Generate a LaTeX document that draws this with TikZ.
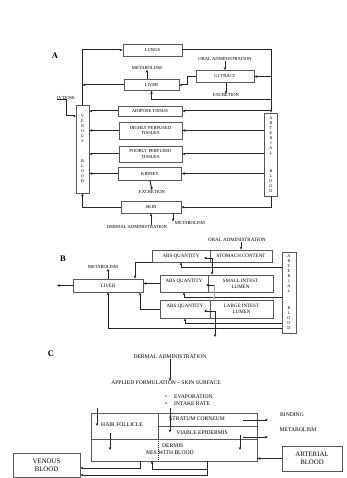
\documentclass[tikz,border=0pt]{standalone}
\usepackage{fontspec}
\setmainfont{Liberation Serif}
\usepackage{tikz}
\usetikzlibrary{arrows.meta,positioning}
\newcommand{\sizeA}{\fontsize{4.6}{5.3}\selectfont}
\newcommand{\sizeAv}{\fontsize{4.2}{5}\selectfont}
\newcommand{\sizeB}{\fontsize{5}{5.8}\selectfont}
\newcommand{\sizeC}{\fontsize{5.6}{6.4}\selectfont}
\newcommand{\sizeCbig}{\fontsize{6.8}{8.4}\selectfont}
\newcommand{\panelfont}{\fontsize{8.5}{9}\selectfont\bfseries}
\tikzset{
  comp/.style={rectangle,draw=black!65,line width=0.8pt,inner sep=0pt,align=center},
  tag/.style={inner sep=0pt,align=center},
  flow/.style={draw=black!85,line width=1pt},
  arr/.style={flow,-{Stealth[length=3pt,width=2.6pt]}},
  lightarr/.style={arr,draw=black!35}
}

\begin{document}
\begin{tikzpicture}[x=1pt,y=-1pt]
  \fill[white] (0,0) rectangle (346,478);
  \useasboundingbox (0,0) rectangle (346,478);

  % A
  \node[tag,font=\panelfont] (labA) at (55,56) {A};
  \node[comp,font=\sizeA,minimum width=59pt,minimum height=12pt] (lungs) at (152.5,50) {LUNGS};
  \node[tag,font=\sizeA] (oralA) at (225,59) {ORAL ADMINISTRATION};
  \node[comp,font=\sizeA,minimum width=58pt,minimum height=12pt] (gi) at (225,76.5) {GI TRACT};
  \node[tag,font=\sizeA] (excrA) at (226,95.5) {EXCRETION};
  \node[comp,font=\sizeA,minimum width=55pt,minimum height=11pt] (liverA) at (151.5,85) {LIVER};
  \node[tag,font=\sizeA] (metabA) at (147,68) {METABOLISM};
  \node[tag,font=\sizeA] (ivdose) at (66,98) {IV DOSE};
  \node[comp,font=\sizeAv,minimum width=13pt,minimum height=88pt] (venA) at (82.5,149)
    {V\\E\\N\\O\\U\\S\\[15pt]B\\L\\O\\O\\D};
  \node[comp,font=\sizeA,minimum width=64pt,minimum height=10pt] (adipose) at (150,111) {ADIPOSE TISSUE};
  \node[comp,font=\sizeA,minimum width=63pt,minimum height=17pt] (hpt) at (150.5,130.5) {HIGHLY PERFUSED\\TISSUES};
  \node[comp,font=\sizeA,minimum width=63pt,minimum height=16pt] (ppt) at (150.5,154) {POORLY PERFUSED\\TISSUES};
  \node[comp,font=\sizeA,minimum width=63pt,minimum height=13pt] (kidney) at (150,173.5) {KIDNEY};
  \node[tag,font=\sizeA] (excrK) at (152,192) {EXCRETION};
  \node[comp,font=\sizeA,minimum width=60pt,minimum height=12pt] (skinA) at (151,207) {SKIN};
  \node[comp,font=\sizeAv,minimum width=13pt,minimum height=83pt] (artA) at (271,154.5)
    {A\\R\\T\\E\\R\\I\\A\\L\\[13pt]B\\L\\O\\O\\D};
  \node[tag,font=\sizeA] (dermA) at (137,227) {DERMAL ADMINISTRATION};
  \node[tag,font=\sizeA] (metabS) at (190,223) {METABOLISM};

  \coordinate (ivin) at (76,116);
  \coordinate (hep) at (271,100);
  \draw[arr] (venA.north) |- (lungs.west);
  \draw[arr] (lungs.east) -| (artA.north);
  \draw[arr] (oralA.south -| gi.north) -- (gi.north);
  \draw[arr] (artA.north |- gi.east) -- (gi.east);
  \draw[arr] (gi.south -| excrA.north) -- (excrA.north);
  \draw[arr] (gi.west) -- ++(-8,0) |- (liverA.east);
  \draw[arr] (liverA.north -| metabA.south) -- (metabA.south);
  \draw[arr] (liverA.west) -- (liverA.west -| venA.north);
  \draw[arr] (hep) -| (liverA.south);
  \draw[arr] (ivdose.south west) -- (ivdose.south) |- (ivin);
  \draw[arr] (adipose.west) -- (adipose.west -| venA.east);
  \draw[arr] (artA.north |- adipose.east) -- (adipose.east);
  \draw[arr] (hpt.west) -- (hpt.west -| venA.east);
  \draw[arr] (hpt.east -| artA.west) -- (hpt.east);
  \draw[arr] (ppt.west) -- (ppt.west -| venA.east);
  \draw[arr] (ppt.east -| artA.west) -- (ppt.east);
  \draw[arr] (kidney.west) -- (kidney.west -| venA.east);
  \draw[arr] (kidney.east -| artA.west) -- (kidney.east);
  \draw[arr] (kidney.south) -- (excrK.north);
  \draw[arr] (skinA.west) -| (venA.south);
  \draw[arr] (artA.south) |- (skinA.east);
  \draw[arr] (dermA.north -| skinA.south) -- (skinA.south);
  \draw[arr] ([xshift=22pt]skinA.south) -- ++(0,8);

  % B
  \node[tag,font=\panelfont] (labB) at (63,259) {B};
  \node[tag,font=\sizeB] (oralB) at (237,240) {ORAL ADMINISTRATION};
  \node[comp,font=\sizeB,minimum width=58pt,minimum height=12pt] (absS) at (181,256) {ABS QUANTITY};
  \node[comp,font=\sizeB,minimum width=62pt,minimum height=12pt] (stom) at (241,256) {STOMACH CONTENT};
  \node[comp,font=\sizeB,minimum width=48pt,minimum height=17pt] (absSI) at (184,283.5) {ABS QUANTITY\\\mbox{}};
  \node[comp,font=\sizeB,minimum width=65pt,minimum height=17pt] (smallI) at (240.5,283.5) {SMALL INTEST\\LUMEN};
  \node[comp,font=\sizeB,minimum width=50pt,minimum height=18pt] (absLI) at (185,309) {ABS QUANTITY\\\mbox{}};
  \node[comp,font=\sizeB,minimum width=63pt,minimum height=18pt] (largeI) at (241.5,309) {LARGE INTEST\\LUMEN};
  \node[comp,font=\sizeB,minimum width=70pt,minimum height=13pt] (liverB) at (108,285.5) {LIVER};
  \node[tag,font=\sizeA] (metabB) at (103,267) {METABOLISM};
  \node[comp,font=\sizeAv,minimum width=14pt,minimum height=81pt] (artB) at (289,292.5)
    {A\\R\\T\\E\\R\\I\\A\\L\\[12pt]B\\L\\O\\O\\D};

  \coordinate (venB) at (57,285.5);
  \coordinate (f1) at (282,267);
  \coordinate (f2) at (282,297);
  \coordinate (f3) at (282,323);
  \coordinate (f4) at (282,328);
  \coordinate (j1) at (212,258);
  \coordinate (j2) at (214,285);
  \coordinate (j3) at (215,311);
  \coordinate (feces) at (215,337);
  \draw[arr] (oralB.south -| stom.north) -- (stom.north);
  \draw[arr] (liverB.north) -- (liverB.north |- metabB.south);
  \draw[arr] (liverB.west) -- (venB);
  \draw[arr] (f1) -| (absS.south);
  \draw[arr] (f2) -| (absSI.south);
  \draw[arr] (f3) -| (absLI.south);
  \draw[arr] (f4) -| (liverB.south);
  \draw[arr] (absS.south west) -| ([xshift=27pt]liverB.north);
  \draw[arr] (absSI.west) -- (absSI.west -| liverB.east);
  \draw[arr] (absLI.west) -| ([xshift=32pt]liverB.south);
  \draw[arr] (j1) -- ++(-8,0);
  \draw[arr] (j1) -- (j1 |- smallI.north);
  \draw[arr] (j2) -- ++(-8,0);
  \draw[lightarr] (j2) -- (j2 |- largeI.north);
  \draw[arr] (j3) -- ++(-11,0);
  \draw[arr] (j3) -- (feces);

  % C
  \node[tag,font=\panelfont] (labC) at (51,354) {C};
  \node[tag,font=\sizeC] (dermal) at (170,357) {DERMAL ADMINISTRATION};
  \node[tag,font=\sizeC] (applied) at (166,383) {APPLIED FORMULATION -- SKIN SURFACE};
  \node[tag,font=\sizeC,anchor=west] (evap) at (165,397) {\textbullet\hspace{7pt}EVAPORATION};
  \node[tag,font=\sizeC,anchor=west] (intake) at (165,404) {\textbullet\hspace{7pt}INTAKE RATE};
  \node[comp,minimum width=67pt,minimum height=26pt] (hairf) at (124.5,426) {};
  \node[comp,minimum width=99pt,minimum height=13pt] (strat) at (207.5,419.5) {};
  \node[comp,minimum width=99pt,minimum height=13pt] (viable) at (207.5,432.5) {};
  \node[comp,minimum width=166pt,minimum height=22pt] (dermis) at (174,450) {};
  \node[tag,font=\sizeC] (hairtxt) at (122,425) {HAIR FOLLICLE};
  \node[tag,font=\sizeC] (strattxt) at (197,419) {STRATUM CORNEUM};
  \node[tag,font=\sizeC] (viabtxt) at (202,433) {VIABLE EPIDERMIS};
  \node[tag,font=\sizeC,anchor=west] (dermtxt) at (162,446) {DERMIS};
  \node[tag,font=\sizeC,anchor=west] (mixtxt) at (146,453) {MIX WITH BLOOD};
  \node[tag,font=\sizeC] (binding) at (292,415) {BINDING};
  \node[tag,font=\sizeC] (metabC) at (298,430) {METABOLISM};
  \node[comp,font=\sizeCbig,minimum width=67pt,minimum height=24pt] (venC) at (46.5,465) {VENOUS\\BLOOD};
  \node[comp,font=\sizeCbig,minimum width=60pt,minimum height=25pt] (artC) at (312,458.5) {ARTERIAL\\BLOOD};

  \coordinate (hin) at (97,408);
  \coordinate (intk) at (170,408);
  \coordinate (hf) at (110,433);
  \coordinate (ve) at (240,435);
  \coordinate (b0) at (243,420);
  \coordinate (b1) at (268,420);
  \coordinate (m0) at (243,437);
  \coordinate (m1) at (268,437);
  \coordinate (v1) at (140,461);
  \coordinate (v2) at (207,461);
  \coordinate (back) at (207,469);
  \draw[flow,dash pattern=on 1pt off 1pt] (hairf.south east) -- (hairf.south east |- dermis.south);
  \draw[arr] (dermal.south) -- (dermal.south |- applied.north);
  \draw[arr] (hin) -- (hin |- hairf.center);
  \draw[arr] (intk) -- (intk |- viable.center);
  \draw[arr] (hf) -- (hf |- dermis.center);
  \draw[arr] (ve) -- (ve |- dermis.center);
  \draw[arr] (b0) -- (b1);
  \draw[arr] (m0) -- (m1);
  \draw[arr] (artC.west) -- (artC.west -| dermis.east);
  \draw[arr] (v1) |- ([yshift=-3pt]venC.east);
  \draw[arr] (v2) |- ([yshift=-10pt]venC.east);
  \draw[arr] (back) -| (v1 -| 152,0);
\end{tikzpicture}
\end{document}
